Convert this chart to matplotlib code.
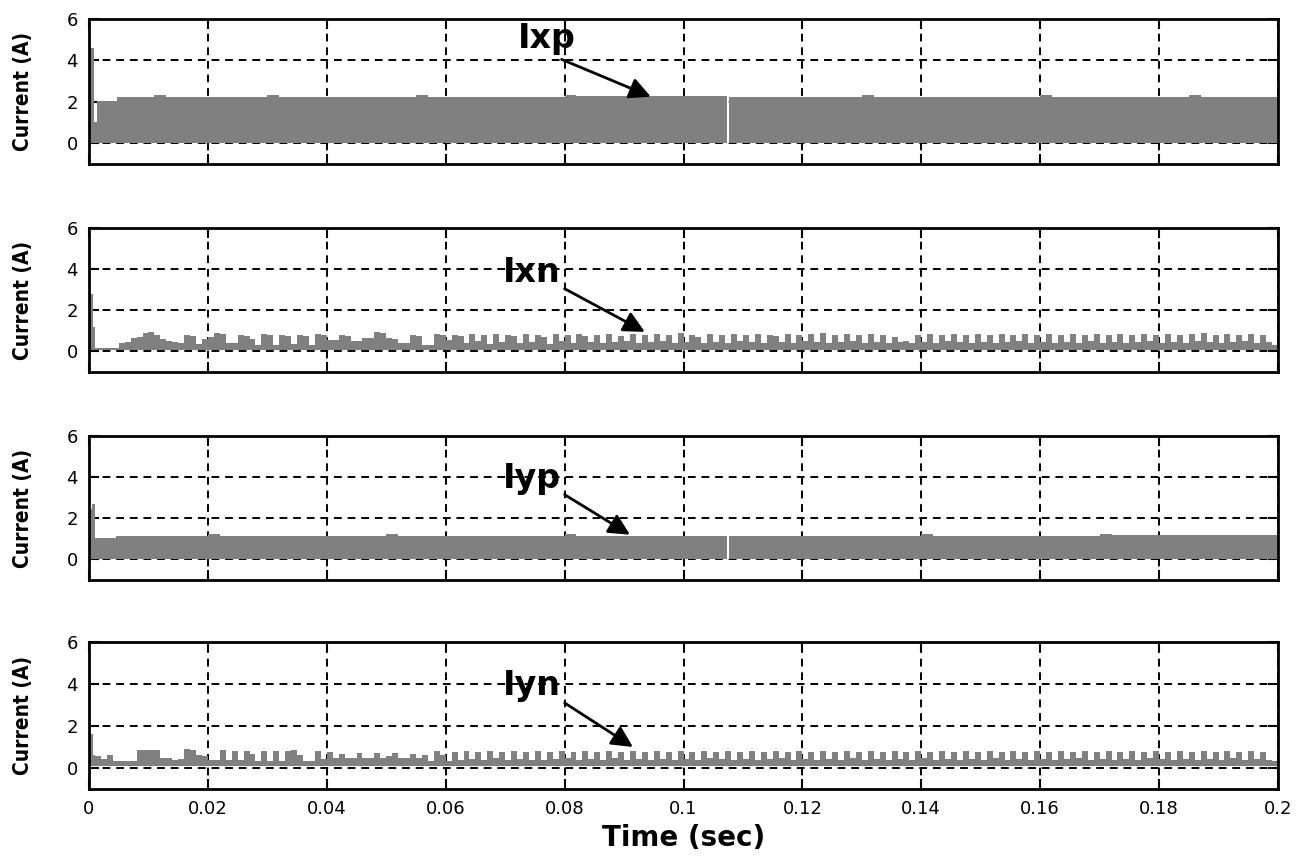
#!/usr/bin/env python3
"""
Switch currents Ixp, Ixn, Iyp, Iyn over the first 0.2 s.
"""

import numpy as np
import matplotlib
matplotlib.use('Agg')
import matplotlib.pyplot as plt
from matplotlib.ticker import FormatStrFormatter

plt.rcParams['font.family'] = ['DejaVu Sans']

GREY = '#808080'

# ---- data (upper envelope of the switched current, A) ----
# Ixp: explicit breakpoints (step envelope)
ixp_t = [0.0, 0.0008, 0.0014, 0.0047, 0.0110, 0.0130, 0.0300, 0.0320, 0.0550,
         0.0570, 0.0800, 0.0820, 0.1073, 0.1077, 0.1300, 0.1320, 0.1600,
         0.1620, 0.1850, 0.1870, 0.2000]
ixp_i = [4.6, 1.05, 2.05, 2.25, 2.35, 2.25, 2.35, 2.25, 2.35,
         2.25, 2.35, 2.3, 0.0, 2.25, 2.35, 2.25, 2.35,
         2.25, 2.35, 2.25, 2.25]

# Iyp: explicit breakpoints
iyp_t = [0.0, 0.0005, 0.0010, 0.0045, 0.0200, 0.0220, 0.0500, 0.0520, 0.0800,
         0.0820, 0.1073, 0.1077, 0.1400, 0.1420, 0.1700, 0.1720, 0.2000]
iyp_i = [2.45, 2.7, 1.05, 1.15, 1.25, 1.15, 1.25, 1.15, 1.25,
         1.15, 0.0, 1.15, 1.25, 1.15, 1.25, 1.2, 1.2]

# Ixn / Iyn: start transient, then one value per millisecond from 0.001 s
ixn_start_t = [0.0, 0.0007, 0.0010]
ixn_start = [2.8, 1.2, 0.15]
ixn_ms = [
    0.15, 0.15, 0.15, 0.15, 0.4, 0.45, 0.65, 0.7, 0.9, 0.95,
    0.8, 0.6, 0.5, 0.45, 0.4, 0.8, 0.75, 0.35, 0.6, 0.7,
    0.9, 0.85, 0.4, 0.4, 0.8, 0.75, 0.6, 0.3, 0.85, 0.8,
    0.3, 0.8, 0.75, 0.35, 0.8, 0.75, 0.3, 0.85, 0.8, 0.55,
    0.55, 0.8, 0.75, 0.5, 0.5, 0.65, 0.65, 0.95, 0.9, 0.65,
    0.6, 0.4, 0.4, 0.8, 0.75, 0.3, 0.3, 0.85, 0.8, 0.55,
    0.8, 0.75, 0.4, 0.85, 0.5, 0.8, 0.35, 0.85, 0.45, 0.8,
    0.75, 0.4, 0.85, 0.45, 0.8, 0.7, 0.35, 0.85, 0.5, 0.8,
    0.4, 0.85, 0.75, 0.45, 0.8, 0.4, 0.85, 0.45, 0.75, 0.5,
    0.85, 0.4, 0.8, 0.45, 0.85, 0.5, 0.8, 0.4, 0.9, 0.45,
    0.8, 0.7, 0.4, 0.85, 0.45, 0.8, 0.4, 0.85, 0.5, 0.8,
    0.45, 0.85, 0.4, 0.8, 0.75, 0.45, 0.85, 0.4, 0.8, 0.5,
    0.85, 0.45, 0.9, 0.4, 0.8, 0.45, 0.85, 0.5, 0.8, 0.4,
    0.85, 0.45, 0.8, 0.4, 0.7, 0.45, 0.5, 0.4, 0.8, 0.45,
    0.85, 0.4, 0.8, 0.5, 0.85, 0.45, 0.8, 0.4, 0.85, 0.45,
    0.8, 0.4, 0.85, 0.45, 0.8, 0.5, 0.85, 0.4, 0.8, 0.45,
    0.85, 0.4, 0.8, 0.45, 0.85, 0.4, 0.8, 0.5, 0.85, 0.4,
    0.8, 0.45, 0.85, 0.4, 0.8, 0.45, 0.85, 0.5, 0.8, 0.4,
    0.85, 0.45, 0.8, 0.4, 0.85, 0.5, 0.9, 0.45, 0.8, 0.4,
    0.85, 0.45, 0.8, 0.5, 0.85, 0.4, 0.8, 0.45, 0.3, 0.8,
]

iyn_start_t = [0.0, 0.0007]
iyn_start = [1.6, 0.6]
iyn_ms = [
    0.55, 0.45, 0.6, 0.35, 0.35, 0.35, 0.35, 0.85, 0.85, 0.85,
    0.85, 0.5, 0.5, 0.4, 0.45, 0.9, 0.85, 0.6, 0.55, 0.4,
    0.4, 0.85, 0.4, 0.8, 0.4, 0.8, 0.65, 0.35, 0.8, 0.35,
    0.8, 0.35, 0.8, 0.85, 0.6, 0.35, 0.35, 0.8, 0.45, 0.75,
    0.5, 0.65, 0.5, 0.5, 0.7, 0.5, 0.5, 0.7, 0.5, 0.55,
    0.7, 0.5, 0.5, 0.65, 0.5, 0.6, 0.35, 0.8, 0.6, 0.35,
    0.75, 0.4, 0.8, 0.45, 0.75, 0.4, 0.8, 0.5, 0.75, 0.4,
    0.8, 0.45, 0.75, 0.4, 0.8, 0.4, 0.75, 0.45, 0.8, 0.5,
    0.75, 0.4, 0.8, 0.45, 0.75, 0.4, 0.8, 0.5, 0.75, 0.4,
    0.8, 0.45, 0.75, 0.4, 0.8, 0.45, 0.75, 0.4, 0.8, 0.45,
    0.75, 0.4, 0.8, 0.5, 0.75, 0.45, 0.8, 0.4, 0.75, 0.45,
    0.8, 0.4, 0.75, 0.45, 0.8, 0.5, 0.75, 0.4, 0.8, 0.45,
    0.75, 0.4, 0.8, 0.45, 0.75, 0.4, 0.8, 0.5, 0.75, 0.4,
    0.8, 0.45, 0.75, 0.4, 0.8, 0.45, 0.75, 0.4, 0.8, 0.5,
    0.75, 0.4, 0.8, 0.45, 0.75, 0.4, 0.8, 0.45, 0.75, 0.4,
    0.8, 0.5, 0.75, 0.4, 0.8, 0.45, 0.75, 0.4, 0.8, 0.45,
    0.75, 0.4, 0.8, 0.45, 0.75, 0.5, 0.8, 0.4, 0.75, 0.45,
    0.8, 0.4, 0.75, 0.45, 0.8, 0.4, 0.75, 0.5, 0.8, 0.45,
    0.75, 0.4, 0.8, 0.45, 0.75, 0.4, 0.8, 0.45, 0.75, 0.4,
    0.8, 0.5, 0.75, 0.4, 0.8, 0.45, 0.75, 0.4, 0.35, 0.8,
]

labels = ['Ixp', 'Ixn', 'Iyp', 'Iyn']
# label text position, arrow tail, arrow head (data coords)
label_xy = [(0.0770, 5.05), (0.0745, 3.85), (0.0745, 3.95), (0.0745, 3.95)]
arrow_tail = [(0.0795, 4.05), (0.0800, 3.05), (0.0800, 3.15), (0.0800, 3.1)]
arrow_head = [(0.0945, 2.25), (0.0935, 0.95), (0.0910, 1.2), (0.0915, 1.0)]

x_ticks = [0, 0.02, 0.04, 0.06, 0.08, 0.1, 0.12, 0.14, 0.16, 0.18, 0.2]
y_ticks = [0, 2, 4, 6]


def ms_series(start_t, start_v, ms_vals):
    t = list(start_t) + [0.001 * (k + 1) for k in range(len(ms_vals))] + [0.2]
    v = list(start_v) + list(ms_vals) + [ms_vals[-1]]
    return np.array(t), np.array(v)


def style_axes(ax, show_xlabels):
    ax.set_xlim(0, 0.2)
    ax.set_ylim(-1, 6)
    ax.set_xticks(x_ticks)
    ax.set_yticks(y_ticks)
    ax.grid(True, color='black', linestyle=(0, (4, 3)), linewidth=1.4)
    ax.set_axisbelow(True)
    ax.tick_params(direction='in', length=7, width=1.5, top=True, right=True,
                   labelsize=13, pad=8)
    for sp in ax.spines.values():
        sp.set_linewidth(2)
    ax.xaxis.set_major_formatter(FormatStrFormatter('%g'))
    if not show_xlabels:
        ax.tick_params(labelbottom=False)
    ax.set_ylabel('Current (A)', fontsize=15, fontweight='bold',
                  fontstretch='condensed')
    ax.yaxis.set_label_coords(-0.047, 0.5)


series = [
    (np.array(ixp_t), np.array(ixp_i), 0.0),
    ms_series(ixn_start_t, ixn_start, ixn_ms) + (0.08,),
    (np.array(iyp_t), np.array(iyp_i), 0.03),
    ms_series(iyn_start_t, iyn_start, iyn_ms) + (0.08,),
]

fig = plt.figure(figsize=(13.07, 8.6), dpi=100)
left, width = 89 / 1307, (1278 - 89) / 1307
tops = [19, 228, 436, 642]
bottoms = [164, 372, 580, 789]

for n in range(4):
    b = 1 - bottoms[n] / 860
    h = (bottoms[n] - tops[n]) / 860
    ax = fig.add_axes([left, b, width, h])
    t, v, base = series[n]
    ax.fill_between(t, base, v, step='post', color=GREY, linewidth=0, zorder=2)
    style_axes(ax, n == 3)
    ax.annotate(labels[n], xy=arrow_head[n], xytext=label_xy[n],
                fontsize=24, fontweight='bold', ha='center', va='center',
                zorder=5)
    ax.annotate('', xy=arrow_head[n], xytext=arrow_tail[n],
                arrowprops=dict(arrowstyle='-|>', color='black', lw=2,
                                mutation_scale=32, shrinkA=0, shrinkB=0),
                zorder=5)
    if n == 3:
        ax.set_xlabel('Time (sec)', fontsize=20, fontweight='bold', labelpad=4)

fig.savefig('out.png', dpi=100)
